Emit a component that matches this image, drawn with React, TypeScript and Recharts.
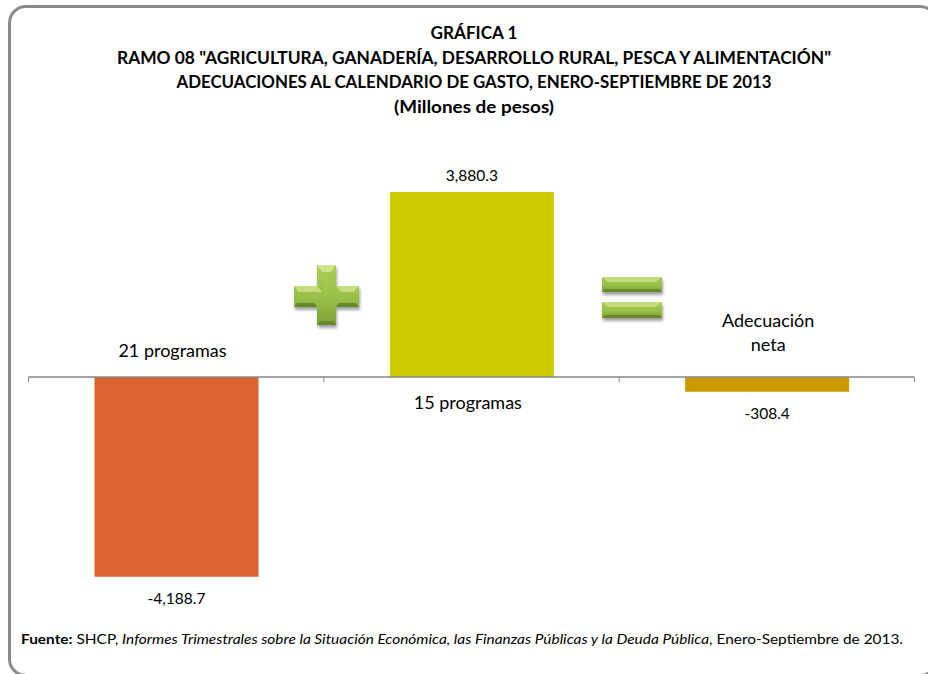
import React from "react";
import { BarChart, Bar, XAxis, YAxis, LabelList, ReferenceLine } from "recharts";

const categories = ["21 programas", "15 programas", "Adecuación neta"];
const values = [-4188.7, 3880.3, -308.4];
const valueLabels = ["-4,188.7", "3,880.3", "-308.4"];
const barColors = ["#DD6330", "#CCCC00", "#CC9900"];
const axisEdges = [0, 1, 2, 3];

const titleLines = [
    "GRÁFICA 1",
    'RAMO 08 "AGRICULTURA, GANADERÍA, DESARROLLO RURAL, PESCA Y ALIMENTACIÓN"',
    "ADECUACIONES AL CALENDARIO DE GASTO, ENERO-SEPTIEMBRE DE 2013",
    "(Millones de pesos)",
];
const titleWidths = [87, 714, 595, 160];

const FONT = "Lato, Carlito, sans-serif";

const chartData = categories.map((name, i) => ({
    name,
    value: values[i],
    slot: i + 0.5,
    fill: barColors[i],
}));

const ValueLabel = ({ x, y, width, height, index }: any) => {
    const top = Math.min(y, y + height);
    const bottom = Math.max(y, y + height);
    const up = values[index] >= 0;
    return (
        <text
            x={x + width / 2}
            y={up ? top - 17 : bottom + 21}
            textAnchor="middle"
            dominantBaseline="central"
            fontSize={15.5}
            fontFamily={FONT}
            fill="#000"
        >
            {valueLabels[index]}
        </text>
    );
};

const CategoryLabel = ({ x, y, width, height, index }: any) => {
    const top = Math.min(y, y + height);
    const bottom = Math.max(y, y + height);
    const cx = x + width / 2;
    const style = { fontSize: 18, fontFamily: FONT, fill: "#000" };
    if (index === 2) {
        // sits above the axis, on two lines
        return (
            <text textAnchor="middle" style={style}>
                <tspan x={cx + 1} y={top - 50}>Adecuación</tspan>
                <tspan x={cx + 1} y={top - 26}>neta</tspan>
            </text>
        );
    }
    const up = values[index] >= 0;
    return (
        <text
            x={cx - 4}
            y={up ? bottom + 25 : top - 27}
            textAnchor="middle"
            dominantBaseline="central"
            style={style}
        >
            {categories[index]}
        </text>
    );
};

const PlusSign = () => (
    <g>
        <path
            d="M317 265h19v21h23v21h-23v18h-19v-18h-23v-21h23z"
            fill="#555"
            opacity={0.55}
            transform="translate(1,3)"
            filter="url(#soft)"
        />
        <path d="M317 265h19v21h23v21h-23v18h-19v-18h-23v-21h23z" fill="url(#signFill)" />
        <path d="M317 265h19l-5 7h-9z" fill="#cfe391" />
        <path d="M294 286h23l5 6h-23z" fill="#c3dc7d" />
        <path d="M336 286h23l-5 6h-13z" fill="#c3dc7d" />
        <path d="M294 307h23l-3-4h-17z" fill="#66872a" />
        <path d="M359 307h-23l3-4h17z" fill="#66872a" />
        <path d="M317 325h19l-3-4h-13z" fill="#66872a" />
        <path d="M322 272l4.5 24l4.5-24z" fill="#a5c94f" opacity={0.6} />
    </g>
);

const EqualBar = ({ y, h }: { y: number; h: number }) => (
    <g>
        <rect x={603} y={y + 3} width={60} height={h} fill="#555" opacity={0.55} filter="url(#soft)" />
        <rect x={602} y={y} width={60} height={h} fill="url(#signFill)" />
        <path d={`M602 ${y}h60l-6 5h-48z`} fill="#c3dc7d" />
        <path d={`M602 ${y + h}h60l-3 -3h-54z`} fill="#66872a" />
    </g>
);

export default function App() {
    return (
        <div
            style={{
                position: "absolute",
                left: 0,
                top: 0,
                width: 928,
                height: 674,
                overflow: "hidden",
                background: "#fff",
            }}
        >
            {/* rounded frame runs off the right and bottom edges */}
            <div
                style={{
                    position: "absolute",
                    left: 8,
                    top: 5,
                    width: 924,
                    height: 666,
                    border: "3px solid #8c8c8c",
                    borderRadius: 18,
                }}
            />
            <div style={{ position: "absolute", left: 0, top: 0 }}>
                <BarChart
                    width={928}
                    height={674}
                    data={chartData}
                    margin={{ top: 138.5, right: 13.5, bottom: 58.5, left: 28.5 }}
                >
                    <XAxis dataKey="name" hide />
                    <XAxis xAxisId="edge" dataKey="slot" type="number" domain={[0, 3]} allowDataOverflow hide />
                    <YAxis hide domain={[-5000, 5000]} />
                    <ReferenceLine y={0} stroke="#868686" strokeWidth={1.5} />
                    {axisEdges.map((e) => (
                        <ReferenceLine
                            key={e}
                            xAxisId="edge"
                            ifOverflow="visible"
                            segment={[
                                { x: e, y: 0 },
                                { x: e, y: -105 },
                            ]}
                            stroke="#868686"
                            strokeWidth={1}
                        />
                    ))}
                    <Bar dataKey="value" barSize={164} isAnimationActive={false}>
                        <LabelList dataKey="value" content={<ValueLabel />} />
                        <LabelList dataKey="name" content={<CategoryLabel />} />
                    </Bar>
                </BarChart>
            </div>
            <svg width={928} height={674} style={{ position: "absolute", left: 0, top: 0 }}>
                <defs>
                    <linearGradient id="signFill" x1="0" y1="0" x2="0" y2="1">
                        <stop offset="0" stopColor="#a9cd55" />
                        <stop offset="0.55" stopColor="#98bf48" />
                        <stop offset="1" stopColor="#7c9f35" />
                    </linearGradient>
                    <filter id="soft" x="-20%" y="-20%" width="140%" height="140%">
                        <feGaussianBlur stdDeviation="1.5" />
                    </filter>
                </defs>
                {titleLines.map((t, i) => (
                    <text
                        key={t}
                        x={474}
                        y={39 + i * 24.6}
                        textAnchor="middle"
                        fontFamily={FONT}
                        fontWeight={700}
                        fontSize={16.5}
                        fill="#000"
                        textLength={titleWidths[i]}
                        lengthAdjust="spacingAndGlyphs"
                    >
                        {t}
                    </text>
                ))}
                <PlusSign />
                <EqualBar y={277} h={15} />
                <EqualBar y={302} h={16} />
                <text
                    x={21}
                    y={644}
                    fontFamily={FONT}
                    fontSize={12.5}
                    fill="#000"
                    textLength={882}
                    lengthAdjust="spacingAndGlyphs"
                >
                    <tspan fontWeight={700}>Fuente:</tspan>
                    <tspan> SHCP, </tspan>
                    <tspan fontStyle="italic">
                        Informes Trimestrales sobre la Situación Económica, las Finanzas Públicas y la Deuda Pública
                    </tspan>
                    <tspan>, Enero-Septiembre de 2013.</tspan>
                </text>
            </svg>
        </div>
    );
}
